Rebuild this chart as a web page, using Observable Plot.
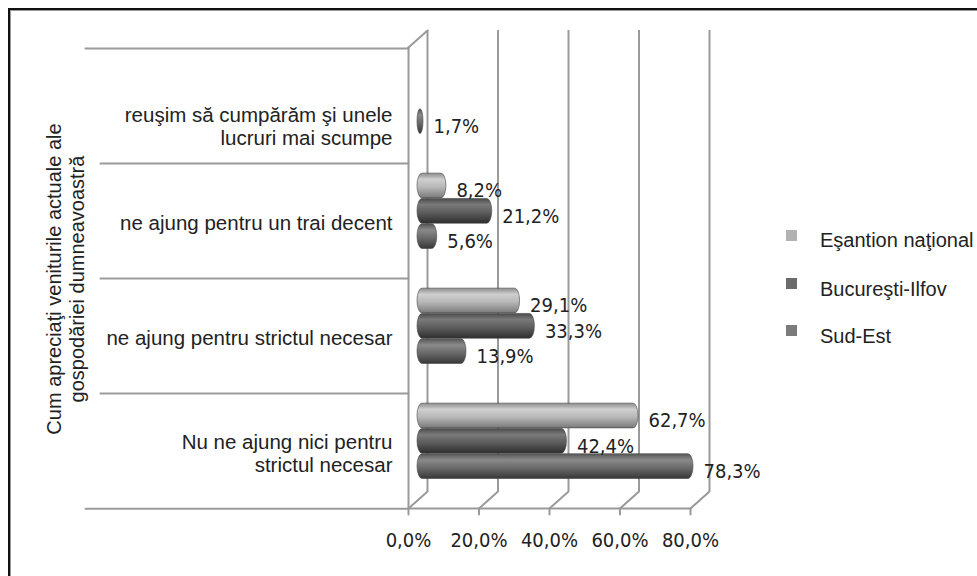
<!DOCTYPE html>
<html>
<head>
<meta charset="utf-8">
<script src="https://cdn.jsdelivr.net/npm/d3@7"></script>
<script src="https://cdn.jsdelivr.net/npm/@observablehq/plot@0.6"></script>
<style>
  html, body { margin: 0; padding: 0; background: #fff; }
  #wrap { position: relative; width: 977px; height: 576px; overflow: hidden; }
  #frame { position: absolute; left: 8px; top: 8px; width: 980px; height: 580px;
           border-left: 2px solid #111; border-top: 2px solid #111; box-shadow: inset 1px 1px 0 #999; }
  #legend { position: absolute; left: 786px; top: 0; font-family: "Liberation Sans", Arial, sans-serif; font-size: 20px; color: #222; }
  .item { position: absolute; white-space: nowrap; }
  .sw { position: absolute; width: 11px; height: 11px; }
  .lt { position: absolute; left: 34px; }
  #ytitle { position: absolute; left: 66px; top: 279px; transform: translate(-50%, -50%) rotate(-90deg);
            font-family: "Liberation Sans", Arial, sans-serif; font-size: 20px; line-height: 23px;
            color: #222; text-align: center; white-space: pre; }
</style>
</head>
<body>
<div id="wrap">
  <div id="frame"></div>
  <div id="chart"></div>
  <div id="legend"></div>
  <div id="ytitle"></div>
</div>
<script>
// ---- data ----
const categories = [
  "reuşim să cumpărăm şi unele lucruri mai scumpe",
  "ne ajung pentru un trai decent",
  "ne ajung pentru strictul necesar",
  "Nu ne ajung nici pentru strictul necesar"
];
const categoryLabels = [
  "reuşim să cumpărăm şi unele\nlucruri mai scumpe",
  "ne ajung pentru un trai decent",
  "ne ajung pentru strictul necesar",
  "Nu ne ajung nici pentru\nstrictul necesar"
];
const seriesNames = ["Eşantion naţional", "Bucureşti-Ilfov", "Sud-Est"];
const esantionNational = [null, 8.2, 29.1, 62.7];
const bucurestiIlfov = [null, 21.2, 33.3, 42.4];
const sudEst = [1.7, 5.6, 13.9, 78.3];
const xTicks = [0, 20, 40, 60, 80];
const yTitle = "Cum apreciaţi veniturile actuale ale\ngospodăriei dumneavoastră";

const seriesValues = [esantionNational, bucurestiIlfov, sudEst];
const rows = [];
seriesNames.forEach((s, si) => categories.forEach((c, ci) => {
  const v = seriesValues[si][ci];
  if (v != null) rows.push({series: s, category: c, value: v});
}));

// ---- styles ----
const gradIds = ["gNat", "gBuc", "gSE"];
const swatch = ["#b2b2b2", "#6b6b6b", "#7b7b7b"];
const barOffset = [-35, -9.7, 15.6];
const bandW = (576 - 47 - 68) / categories.length;
const fmt = v => v.toFixed(1).replace(".", ",") + "%";
const numFont = '"DejaVu Sans Condensed", "Liberation Sans Narrow", sans-serif';
const txtFont = '"Liberation Sans", Arial, sans-serif';
const grid = "#9a9a9a";
const lineShape = {draw(ctx, l) { ctx.moveTo(0, 0); ctx.lineTo(0, -l); }};
const depthLen = Math.hypot(19, 17);
const depthAngle = Math.atan2(19, 17) * 180 / Math.PI;

const marks = [
  // back wall gridlines
  Plot.ruleX(xTicks, {x: d => d, dx: 19, dy: -17, stroke: grid, strokeWidth: 2}),
  // floor diagonals
  Plot.vector(xTicks, {x: d => d, frameAnchor: "bottom", length: depthLen, rotate: depthAngle,
    anchor: "start", shape: lineShape, stroke: grid, strokeWidth: 2}),
  // top-left wall diagonal
  Plot.vector([0], {x: d => d, frameAnchor: "top", length: depthLen, rotate: depthAngle,
    anchor: "start", shape: lineShape, stroke: grid, strokeWidth: 2}),
  // front axis lines
  Plot.frame({anchor: "bottom", stroke: grid, strokeWidth: 2}),
  Plot.frame({anchor: "left", stroke: grid, strokeWidth: 2}),
  // x tick marks
  Plot.vector(xTicks, {x: d => d, frameAnchor: "bottom", length: 6, rotate: 180,
    anchor: "start", shape: lineShape, stroke: grid, strokeWidth: 2}),
  // category separators (long ticks)
  Plot.vector(categories.slice(0, 1), {y: d => d, frameAnchor: "left", dy: -bandW / 2, length: 323, rotate: -90,
    anchor: "start", shape: lineShape, stroke: grid, strokeWidth: 2}),
  Plot.vector(categories.slice(1), {y: d => d, frameAnchor: "left", dy: -bandW / 2, length: 308, rotate: -90,
    anchor: "start", shape: lineShape, stroke: grid, strokeWidth: 2}),
  Plot.vector(categories.slice(-1), {y: d => d, frameAnchor: "left", dy: bandW / 2, length: 323, rotate: -90,
    anchor: "start", shape: lineShape, stroke: grid, strokeWidth: 2}),
  // x tick labels
  Plot.text(xTicks, {x: d => d, frameAnchor: "bottom", dy: 38, text: fmt,
    fontFamily: numFont, fontSize: 20, fill: "#222"}),
  // category labels
  Plot.text(categoryLabels.slice(0, 1), {y: (d, i) => categories[i], frameAnchor: "left", dx: -16, dy: 20,
    text: d => d, textAnchor: "end", lineHeight: 1.1, fontFamily: txtFont, fontSize: 20.5, fill: "#222"}),
  Plot.text(categoryLabels.slice(1), {y: (d, i) => categories[i + 1], frameAnchor: "left", dx: -16, dy: 2,
    text: d => d, textAnchor: "end", lineHeight: 1.1, fontFamily: txtFont, fontSize: 20.5, fill: "#222"})
];

seriesNames.forEach((s, si) => {
  const data = rows.filter(r => r.series === s);
  marks.push(Plot.barX(data, {x: "value", y: "category", dx: 9, dy: barOffset[si],
    insetTop: (bandW - 25) / 2, insetBottom: (bandW - 25) / 2, rx: 5, ry: 12.5,
    fill: `url(#${gradIds[si]})`, stroke: "#444", strokeWidth: 0.6}));
});
seriesNames.forEach((s, si) => {
  const data = rows.filter(r => r.series === s);
  marks.push(Plot.text(data, {x: "value", y: "category", dx: 19, dy: barOffset[si] + 5,
    text: d => fmt(d.value), textAnchor: "start", fontFamily: numFont, fontSize: 20, fill: "#222"}));
});

const chart = Plot.plot({
  width: 977, height: 576,
  marginLeft: 408, marginRight: 287, marginTop: 47, marginBottom: 68,
  x: {domain: [0, 80], axis: null},
  y: {domain: categories, axis: null, padding: 0},
  style: {background: "transparent", overflow: "visible"},
  marks
});

const NS = "http://www.w3.org/2000/svg";
const defs = document.createElementNS(NS, "defs");
const gradStops = [
  [["0", "#8c8c8c"], ["0.25", "#cfcfcf"], ["0.55", "#b9b9b9"], ["1", "#7a7a7a"]],
  [["0", "#4a4a4a"], ["0.25", "#7a7a7a"], ["0.6", "#5a5a5a"], ["1", "#2e2e2e"]],
  [["0", "#555555"], ["0.25", "#8a8a8a"], ["0.6", "#676767"], ["1", "#383838"]]
];
gradIds.forEach((id, i) => {
  const g = document.createElementNS(NS, "linearGradient");
  g.setAttribute("id", id);
  g.setAttribute("x1", "0"); g.setAttribute("y1", "0");
  g.setAttribute("x2", "0"); g.setAttribute("y2", "1");
  gradStops[i].forEach(([o, c]) => {
    const st = document.createElementNS(NS, "stop");
    st.setAttribute("offset", o);
    st.setAttribute("stop-color", c);
    g.appendChild(st);
  });
  defs.appendChild(g);
});
chart.insertBefore(defs, chart.firstChild);
document.getElementById("chart").appendChild(chart);

document.getElementById("ytitle").textContent = yTitle;

// legend
const legendTops = [241, 290, 337];
const legend = document.getElementById("legend");
seriesNames.forEach((s, i) => {
  const item = document.createElement("div");
  item.className = "item";
  item.style.top = (legendTops[i] - 11) + "px";
  item.innerHTML = `<div class="sw" style="top:${i === 0 ? 0 : -1}px;background:${swatch[i]}"></div><div class="lt" style="top:-1px">${s}</div>`;
  legend.appendChild(item);
});
</script>
</body>
</html>
